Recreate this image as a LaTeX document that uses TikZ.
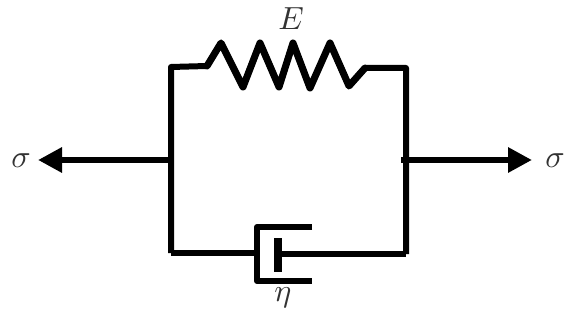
\documentclass[tikz,border=0pt]{standalone}
\usetikzlibrary{arrows.meta}
\tikzset{
  wire/.style={line width=6pt,line join=round,black},
  force/.style={wire,-{Triangle[length=24pt,width=24pt]}},
  sym/.style={inner sep=0pt,text=black!80,scale=3.2}
}
\begin{document}
\begin{tikzpicture}[x=1pt,y=-1pt]
\useasboundingbox (0,0) rectangle (564,320);
\coordinate (tl) at (171,67);
\coordinate (tr) at (406,68);
\coordinate (bl) at (171,253);
\coordinate (br) at (406,254);
\coordinate (ml) at (171,160);
\coordinate (mr) at (401,160);
\coordinate (cylL) at (257,253);
\coordinate (rod) at (278,254);
\coordinate (tipL) at (38,160);
\coordinate (tipR) at (532,160);
% frame and spring, joined as one line
\draw[wire] (bl) -- (tl) -- (207,66) -- (221,43) -- (243,87) -- (260,43) -- (279,87)
  -- (293,43) -- (310,88) -- (330,43) -- (349,86) -- (365,68) -- (tr) -- (br);
% spring drawn a little heavier
\draw[wire,line width=7pt,line cap=round] (207,66) -- (221,43) -- (243,87) -- (260,43) -- (279,87)
  -- (293,43) -- (310,88) -- (330,43) -- (349,86) -- (365,68);
% dashpot
\draw[wire] (bl) -- (cylL);
\draw[wire] (312,227) -- (257,227) -- (257,281) -- (312,281);
\draw[line width=8pt] (278,238) -- (278,272);
\draw[wire] (rod) -- (br);
% forces
\draw[force] (ml) -- (tipL);
\draw[force] (mr) -- (tipR);
% labels
\node[sym] (E) at (291,19) {$E$};
\node[sym] (sl) at (21,161) {$\sigma$};
\node[sym] (sr) at (555,161) {$\sigma$};
\node[sym] (eta) at (283,298) {$\eta$};
\end{tikzpicture}
\end{document}
